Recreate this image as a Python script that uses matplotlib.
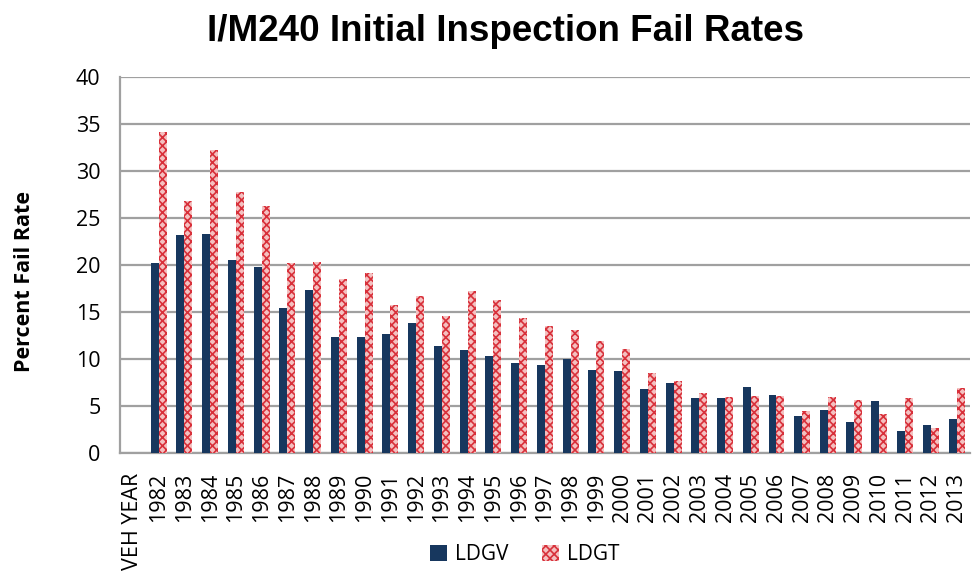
import matplotlib.pyplot as plt
import numpy as np

plt.rcParams['font.family'] = ['Open Sans', 'DejaVu Sans']
plt.rcParams['hatch.linewidth'] = 1.2

categories = ['VEH YEAR'] + [str(y) for y in range(1982, 2014)]
ldgv = [np.nan,
        20.2, 23.2, 23.3, 20.5, 19.8, 15.4, 17.3, 12.3, 12.4, 12.7,
        13.8, 11.4, 11.0, 10.3, 9.6, 9.4, 10.0, 8.8, 8.7, 6.8,
        7.5, 5.9, 5.9, 7.0, 6.2, 4.0, 4.6, 3.3, 5.6, 2.4,
        3.0, 3.6]
ldgt = [np.nan,
        34.1, 26.8, 32.2, 27.8, 26.3, 20.2, 20.3, 18.5, 19.1, 15.8,
        16.7, 14.6, 17.2, 16.3, 14.4, 13.5, 13.1, 11.9, 11.1, 8.5,
        7.7, 6.4, 6.0, 6.1, 6.1, 4.5, 6.0, 5.7, 4.2, 5.9,
        2.7, 6.9]

fig = plt.figure(figsize=(9.72, 5.73), dpi=100)
ax = fig.add_axes([0.1235, 0.209, 0.874, 0.657])

x = np.arange(len(categories))
w = 0.31
ax.bar(x - w / 2, ldgv, width=w, color='#17375e', label='LDGV', zorder=3)
ax.bar(x + w / 2, ldgt, width=w, color='#f4c0c0', edgecolor='#d8303a',
       hatch='xxxx', linewidth=0, label='LDGT', zorder=3)

ax.set_xlim(-0.5, len(categories) - 0.5)
ax.set_ylim(0, 40)
ax.set_yticks(np.arange(0, 41, 5))
ax.set_xticks(x)
ax.set_xticklabels(categories, rotation=90, fontsize=15.5)
ax.tick_params(axis='y', labelsize=15.5, length=0, pad=14)
ax.tick_params(axis='x', length=0, pad=14)
ax.yaxis.grid(True, color='#a0a0a0', linewidth=1.6, zorder=0)

for side in ['top', 'right']:
    ax.spines[side].set_visible(False)
for side in ['left', 'bottom']:
    ax.spines[side].set_color('#a0a0a0')
    ax.spines[side].set_linewidth(1.6)

ax.set_ylabel('Percent Fail Rate', fontsize=15.5, fontweight='bold')
ax.yaxis.set_label_coords(-0.100, 0.455)
fig.text(0.52, 0.945, 'I/M240 Initial Inspection Fail Rates', ha='center', va='center',
         fontsize=26.5, fontweight='bold', family='Liberation Sans')

fig.legend(loc='center', bbox_to_anchor=(0.54, 0.032), ncol=2, frameon=False,
           fontsize=15, handlelength=0.8, handleheight=0.8, columnspacing=1.6,
           handletextpad=0.4)

fig.savefig('out.png', dpi=100)
